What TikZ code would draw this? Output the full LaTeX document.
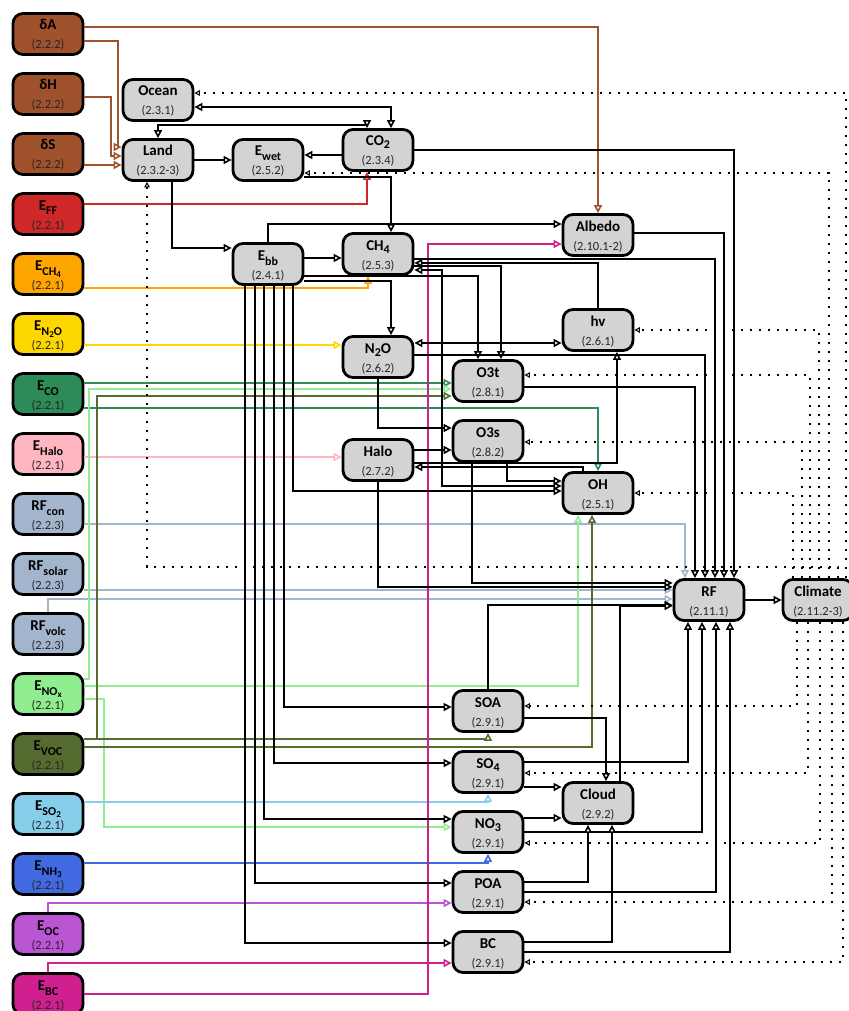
\documentclass[tikz,border=0pt]{standalone}
\usepackage{fontspec}
\setmainfont{Carlito}
\usetikzlibrary{arrows.meta}
\definecolor{cBrown}{HTML}{A0522D}
\definecolor{cRed}{HTML}{D02828}
\definecolor{cOrange}{HTML}{FFA500}
\definecolor{cGold}{HTML}{FFD700}
\definecolor{cSea}{HTML}{2E8B57}
\definecolor{cPink}{HTML}{FFB6C1}
\definecolor{cSteel}{HTML}{A2B5CD}
\definecolor{cLGreen}{HTML}{90EE90}
\definecolor{cOlive}{HTML}{556B2F}
\definecolor{cSky}{HTML}{87CEEB}
\definecolor{cRoyal}{HTML}{4169E1}
\definecolor{cOrchid}{HTML}{BA55D3}
\definecolor{cViolet}{HTML}{D02090}
\definecolor{cGray}{HTML}{D3D3D3}
\newcommand{\sbx}[1]{\raisebox{-5pt}{\fontsize{12}{12}\selectfont #1}}
\newcommand{\ssbx}[1]{\raisebox{-2.5pt}{\fontsize{9}{9}\selectfont #1}}
\newcommand{\csub}[1]{\raisebox{-3pt}{\fontsize{12}{12}\selectfont #1}}
\newcommand{\mkbox}[6]{%
  \node[boxst, fill=#4] (#1) at (#2,#3) {};
  \node[ttl] (#1-t) at (#2,#3-4) {#5};
  \node[subt] (#1-s) at (#2,#3+15) {#6};}
\tikzset{
  otri/.tip={Triangle[length=8pt,width=8pt,line width=1.6pt,fill=white]},
  dtri/.tip={Triangle[length=5.5pt,width=5.5pt,line width=1pt,fill=white]},
  boxst/.style={draw=black, line width=2.8pt, rounded corners=10pt, minimum width=70pt, minimum height=41pt, inner sep=0pt},
  ttl/.style={anchor=base, inner sep=0pt, font=\fontsize{15}{15}\selectfont\bfseries},
  subt/.style={anchor=base, inner sep=0pt, font=\fontsize{12.5}{12.5}\selectfont, text=black!85},
  con/.style={line width=2.7pt, -otri},
  bicon/.style={line width=2.7pt, otri-otri},
  fb/.style={line width=1.6pt, dash pattern=on 2.5pt off 6.5pt, -dtri},
}
\begin{document}
\begin{tikzpicture}[x=1pt,y=-1pt]
\useasboundingbox (0,0) rectangle (848,1011);
% left column
\mkbox{dA}{48}{34}{cBrown}{δA}{(2.2.2)}
\mkbox{dH}{48}{94}{cBrown}{δH}{(2.2.2)}
\mkbox{dS}{48}{154}{cBrown}{δS}{(2.2.2)}
\mkbox{EFF}{48}{214}{cRed}{E\sbx{FF}}{(2.2.1)}
\mkbox{ECH4}{48}{274}{cOrange}{E\sbx{CH\ssbx{4}}}{(2.2.1)}
\mkbox{EN2O}{48}{334}{cGold}{E\sbx{N\ssbx{2}O}}{(2.2.1)}
\mkbox{ECO}{48}{394}{cSea}{E\sbx{CO}}{(2.2.1)}
\mkbox{EHalo}{48}{454}{cPink}{E\sbx{Halo}}{(2.2.1)}
\mkbox{RFcon}{48}{514}{cSteel}{RF\sbx{con}}{(2.2.3)}
\mkbox{RFsolar}{48}{574}{cSteel}{RF\sbx{solar}}{(2.2.3)}
\mkbox{RFvolc}{48}{634}{cSteel}{RF\sbx{volc}}{(2.2.3)}
\mkbox{ENOx}{48}{694}{cLGreen}{E\sbx{NO\ssbx{x}}}{(2.2.1)}
\mkbox{EVOC}{48}{754}{cOlive}{E\sbx{VOC}}{(2.2.1)}
\mkbox{ESO2}{48}{814}{cSky}{E\sbx{SO\ssbx{2}}}{(2.2.1)}
\mkbox{ENH3}{48}{874}{cRoyal}{E\sbx{NH\ssbx{3}}}{(2.2.1)}
\mkbox{EOC}{48}{934}{cOrchid}{E\sbx{OC}}{(2.2.1)}
\mkbox{EBC}{48}{994}{cViolet}{E\sbx{BC}}{(2.2.1)}
% gray nodes
\mkbox{Ocean}{158}{100}{cGray}{Ocean}{(2.3.1)}
\mkbox{Land}{158}{160}{cGray}{Land}{(2.3.2-3)}
\mkbox{Ewet}{268}{160}{cGray}{E\sbx{wet}}{(2.5.2)}
\mkbox{CO2}{378}{150}{cGray}{CO\csub{2}}{(2.3.4)}
\mkbox{Ebb}{268}{264}{cGray}{E\sbx{bb}}{(2.4.1)}
\mkbox{CH4}{378}{254}{cGray}{CH\csub{4}}{(2.5.3)}
\mkbox{Albedo}{598}{235}{cGray}{Albedo}{(2.10.1-2)}
\mkbox{hv}{598}{330}{cGray}{hv}{(2.6.1)}
\mkbox{N2O}{378}{357}{cGray}{N\csub{2}O}{(2.6.2)}
\mkbox{O3t}{488}{381}{cGray}{O3t}{(2.8.1)}
\mkbox{O3s}{488}{441}{cGray}{O3s}{(2.8.2)}
\mkbox{Halo}{378}{460}{cGray}{Halo}{(2.7.2)}
\mkbox{OH}{598}{493}{cGray}{OH}{(2.5.1)}
\mkbox{RF}{709}{600}{cGray}{RF}{(2.11.1)}
\mkbox{Climate}{818}{600}{cGray}{Climate}{(2.11.2-3)}
\mkbox{SOA}{488}{711}{cGray}{SOA}{(2.9.1)}
\mkbox{SO4}{488}{772}{cGray}{SO\csub{4}}{(2.9.1)}
\mkbox{NO3}{488}{832}{cGray}{NO\csub{3}}{(2.9.1)}
\mkbox{POA}{488}{892}{cGray}{POA}{(2.9.1)}
\mkbox{BC}{488}{952}{cGray}{BC}{(2.9.1)}
\mkbox{Cloud}{598}{803}{cGray}{Cloud}{(2.9.2)}
% ---- coloured drivers
\draw[con,cBrown] (dA.east|-0,27) -| (Albedo.north);
\draw[con,cBrown] (dA.east|-0,41) -- (118,41) -- (118,147) -- (Land.west|-0,147);
\draw[con,cBrown] (dH.east|-0,97) -- (111,97) -- (111,156) -- (Land.west|-0,156);
\draw[con,cBrown] (dS.east|-0,165) -- (Land.west|-0,165);
\draw[con,cRed] (EFF.east|-0,204) -| (CO2.south-|367,0);
\draw[con,cOrange] (ECH4.east|-0,288) -| (CH4.south-|368,0);
\draw[con,cGold] (EN2O.east|-0,345) -- (N2O.west|-0,345);
\draw[con,cSea] (ECO.east|-0,383) -- (O3t.west|-0,383);
\draw[con,cSea] (ECO.east|-0,408) -| (OH.north);
\draw[con,cPink] (EHalo.east|-0,457) -- (Halo.west|-0,457);
\draw[con,cSteel] (RFcon.east|-0,524) -| (RF.north-|685,0);
\draw[con,cSteel] (RFsolar.east|-0,590) -- (RF.west|-0,590);
\draw[con,cSteel] (RFvolc.north) |- (RF.west|-0,599);
\draw[con,cLGreen] (ENOx.east|-0,679) -- (89,679) |- (O3t.west|-0,389);
\draw[con,cLGreen] (ENOx.east|-0,686) -| (OH.south-|578,0);
\draw[con,cLGreen] (ENOx.east|-0,699) -- (104,699) |- (NO3.west|-0,827);
\draw[con,cOlive] (EVOC.east|-0,739) -- (97,739) |- (O3t.west|-0,396);
\draw[con,cOlive] (EVOC.east|-0,739) -| (SOA.south);
\draw[con,cOlive] (EVOC.east|-0,747) -| (OH.south-|592,0);
\draw[con,cSky] (ESO2.east|-0,802) -| (SO4.south);
\draw[con,cRoyal] (ENH3.east|-0,863) -| (NO3.south);
\draw[con,cOrchid] (EOC.north) |- (POA.west|-0,903);
\draw[con,cViolet] (EBC.north) |- (BC.west|-0,963);
\draw[con,cViolet] (EBC.east|-0,994) -- (428,994) |- (Albedo.west|-0,244);
% ---- black links
\draw[con] (Land.east) -- (Ewet.west);
\draw[con] (CO2.west|-0,155) -- (Ewet.east|-0,155);
\draw[bicon] (Ocean.east|-0,107) -| (CO2.north-|391,0);
\draw[bicon] (Land.north) |- (367,125) -- (CO2.north-|367,0);
\draw[con] (Land.south-|172,0) |- (Ebb.west|-0,248);
\draw[con] (Ewet.east|-0,177) -| (CH4.north-|391,0);
\draw[con] (Ebb.north) |- (Albedo.west|-0,224);
\draw[con] (Ebb.east|-0,258) -- (CH4.west|-0,258);
\draw[con] (Ebb.east|-0,276) -| (O3t.north-|478,0);
\draw[con] (Ebb.east|-0,281) -| (N2O.north-|391,0);
\draw[con] (Ebb.south-|293,0) |- (OH.west|-0,491);
\draw[con] (Ebb.south-|284,0) |- (SOA.west|-0,707);
\draw[con] (Ebb.south-|274,0) |- (SO4.west|-0,763);
\draw[con] (Ebb.south-|264,0) |- (NO3.west|-0,819);
\draw[con] (Ebb.south-|255,0) |- (POA.west|-0,883);
\draw[con] (Ebb.south-|245,0) |- (BC.west|-0,943);
\draw[con] (CH4.east|-0,259) -| (RF.north-|715,0);
\draw[con] (hv.north) |- (CH4.east|-0,263);
\draw[con] (CH4.east|-0,266) -| (O3t.north-|501,0);
\draw[bicon] (CH4.east|-0,270) -- (442,270) |- (OH.west|-0,486);
\draw[bicon] (N2O.east|-0,343) -- (hv.west|-0,343);
\draw[con] (N2O.east|-0,355) -| (RF.north-|705,0);
\draw[con] (N2O.south) |- (O3s.west|-0,428);
\draw[con] (Halo.east|-0,450) -- (O3s.west|-0,450);
\draw[con] (OH.north-|583,0) |- (Halo.east|-0,467);
\draw[con] (Halo.east|-0,463) -| (hv.south-|617,0);
\draw[con] (O3s.south-|507,0) |- (OH.west|-0,481);
\draw[con] (O3s.south-|472,0) |- (RF.west|-0,583);
\draw[con] (Halo.south) |- (RF.west|-0,587);
\draw[con] (O3t.east|-0,387) -| (RF.north-|695,0);
\draw[con] (Albedo.east|-0,233) -| (RF.north-|724,0);
\draw[con] (CO2.east) -| (RF.north-|734,0);
\draw[con] (SOA.north) |- (RF.west|-0,605);
\draw[con] (Cloud.north-|620,0) |- (RF.west|-0,606);
\draw[con] (SOA.east|-0,718) -| (Cloud.north-|606,0);
\draw[con] (SO4.east|-0,762) -| (RF.south-|688,0);
\draw[con] (SO4.east|-0,787) -- (Cloud.west|-0,787);
\draw[con] (NO3.east|-0,818) -- (Cloud.west|-0,818);
\draw[con] (NO3.east|-0,832) -| (RF.south-|702,0);
\draw[con] (POA.east|-0,882) -| (Cloud.south-|588,0);
\draw[con] (POA.east|-0,892) -| (RF.south-|716,0);
\draw[con] (BC.east|-0,942) -| (Cloud.south-|612,0);
\draw[con] (BC.east|-0,952) -| (RF.south-|730,0);
\draw[con] (RF.east) -- (Climate.west);
% ---- climate feedbacks (dotted)
\draw[fb] (Climate.north-|846,0) |- (Ocean.east|-0,93);
\draw[fb] (Climate.north-|829,0) |- (Ewet.east|-0,173);
\draw[fb] (Climate.north-|838,0) |- (147,567) -- (Land.south-|147,0);
\draw[fb] (Climate.north-|819,0) |- (hv.east|-0,330);
\draw[fb] (Climate.north-|810,0) |- (O3t.east|-0,375);
\draw[fb] (Climate.north-|802,0) |- (O3s.east|-0,442);
\draw[fb] (Climate.north-|793,0) |- (OH.east|-0,493);
\draw[fb] (Climate.south-|797,0) |- (SOA.east|-0,706);
\draw[fb] (Climate.south-|808,0) |- (SO4.east|-0,773);
\draw[fb] (Climate.south-|820,0) |- (NO3.east|-0,843);
\draw[fb] (Climate.south-|832,0) |- (POA.east|-0,902);
\draw[fb] (Climate.south-|843,0) |- (BC.east|-0,962);
\end{tikzpicture}
\end{document}
